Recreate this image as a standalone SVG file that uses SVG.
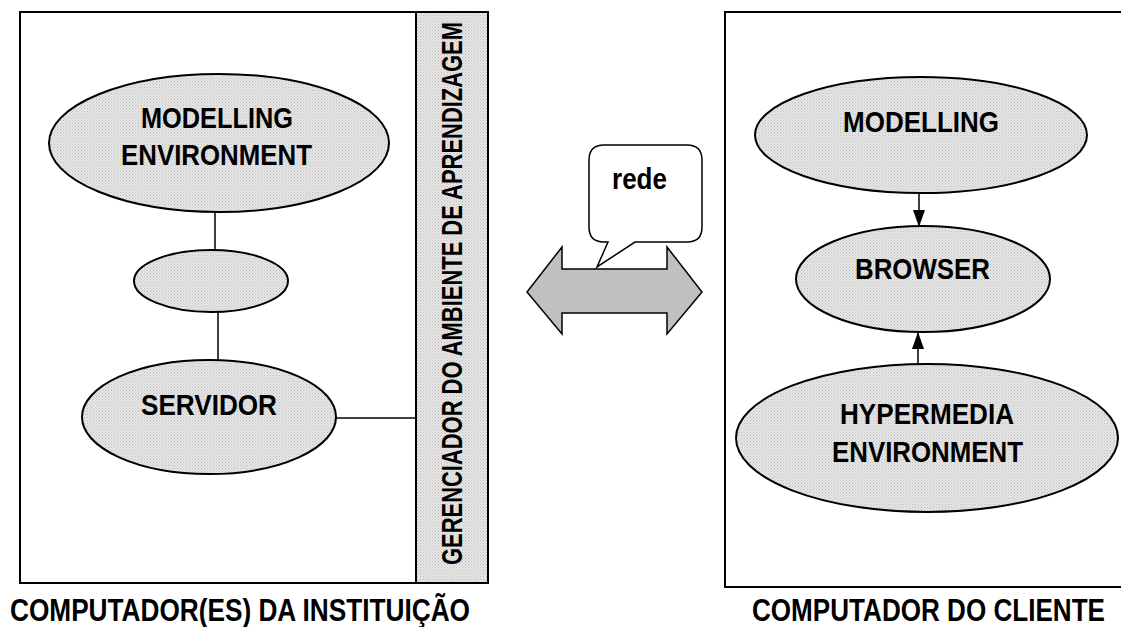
<svg xmlns="http://www.w3.org/2000/svg" width="1121" height="627" viewBox="0 0 1121 627">
<defs>
<pattern id="dots" width="3" height="3" patternUnits="userSpaceOnUse">
<rect width="3" height="3" fill="#e6e6e6"/>
<rect x="0" y="0" width="1" height="1" fill="#bdbdbd"/>
<rect x="1.5" y="1.5" width="1" height="1" fill="#c4c4c4"/>
</pattern>
<marker id="ah" viewBox="0 0 10 10" refX="10" refY="5" markerWidth="17" markerHeight="12" preserveAspectRatio="none" orient="auto" markerUnits="userSpaceOnUse">
<path d="M0,0 L10,5 L0,10 z" fill="#000"/>
</marker>
</defs>
<style>
.box{fill:#fff;stroke:#000;stroke-width:2}
.node{fill:url(#dots);stroke:#000;stroke-width:2}
.t{font-family:"Liberation Sans","Arial",sans-serif;font-weight:bold;font-size:29.5px;fill:#000;text-anchor:middle}
.lbl{font-family:"Liberation Sans","Arial",sans-serif;font-weight:bold;font-size:32px;fill:#000;text-anchor:middle}
.c{stroke:#000;stroke-width:1.5;fill:none}
</style>
<g id="left-computer">
<rect class="box" x="20" y="12" width="468" height="571"/>
<rect x="416" y="12" width="72" height="571" fill="url(#dots)" stroke="#000" stroke-width="2"/>
<text class="t" font-size="26" transform="translate(462,293.5) rotate(-90)" textLength="543" lengthAdjust="spacingAndGlyphs">GERENCIADOR DO AMBIENTE DE APRENDIZAGEM</text>
<text class="lbl" x="240" y="621" textLength="460" lengthAdjust="spacingAndGlyphs">COMPUTADOR(ES) DA INSTITUIÇÃO</text>
</g>
<g id="right-computer">
<path d="M1125,12 L725,12 L725,587 L1125,587" fill="#fff" stroke="#000" stroke-width="2"/>
<text class="lbl" x="928.5" y="621" textLength="353" lengthAdjust="spacingAndGlyphs">COMPUTADOR DO CLIENTE</text>
</g>
<g id="connectors">
<line class="c" x1="215" y1="211" x2="215" y2="250"/>
<line class="c" x1="218" y1="312" x2="218" y2="361"/>
<line class="c" x1="336" y1="418" x2="416" y2="418"/>
<line class="c" x1="919" y1="193" x2="919" y2="227" marker-end="url(#ah)"/>
<line class="c" x1="918" y1="364" x2="918" y2="332" marker-end="url(#ah)"/>
</g>
<g id="modelling-environment">
<ellipse class="node" cx="219" cy="143" rx="170" ry="69"/>
<text class="t" x="217" y="128" textLength="152" lengthAdjust="spacingAndGlyphs">MODELLING</text>
<text class="t" x="216.5" y="165" textLength="191" lengthAdjust="spacingAndGlyphs">ENVIRONMENT</text>
</g>
<g id="middle-node">
<ellipse class="node" cx="211" cy="281" rx="77" ry="31"/>
</g>
<g id="servidor">
<ellipse class="node" cx="209" cy="417" rx="127" ry="57"/>
<text class="t" x="209" y="415" textLength="136" lengthAdjust="spacingAndGlyphs">SERVIDOR</text>
</g>
<g id="network">
<path d="M527,292 L562,247 L562,269 L667,269 L667,247 L702,292 L667,334 L667,313 L562,313 L562,334 Z" fill="#c0c0c0" stroke="#000" stroke-width="1.5"/>
<path d="M604,145 L687,145 Q702,145 702,160 L702,227 Q702,242 687,242 L635,242 L597,267 L608,242 L604,242 Q589,242 589,227 L589,160 Q589,145 604,145 Z" fill="#fff" stroke="#000" stroke-width="1.5"/>
<text class="t" x="639.5" y="189" font-size="26" textLength="55" lengthAdjust="spacingAndGlyphs">rede</text>
</g>
<g id="modelling">
<ellipse class="node" cx="921" cy="135" rx="166" ry="58"/>
<text class="t" x="921" y="132" textLength="156" lengthAdjust="spacingAndGlyphs">MODELLING</text>
</g>
<g id="browser">
<ellipse class="node" cx="923" cy="279" rx="127" ry="53"/>
<text class="t" x="922.5" y="279" textLength="135" lengthAdjust="spacingAndGlyphs">BROWSER</text>
</g>
<g id="hypermedia-environment">
<ellipse class="node" cx="927" cy="438" rx="191" ry="74"/>
<text class="t" x="927" y="424" textLength="174" lengthAdjust="spacingAndGlyphs">HYPERMEDIA</text>
<text class="t" x="927.5" y="462" textLength="191" lengthAdjust="spacingAndGlyphs">ENVIRONMENT</text>
</g>
</svg>
